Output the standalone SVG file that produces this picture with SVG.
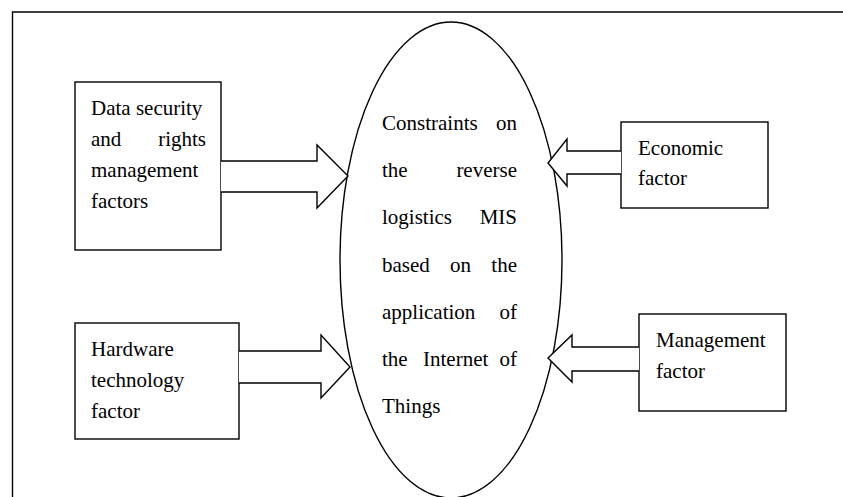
<svg xmlns="http://www.w3.org/2000/svg" width="843" height="497" viewBox="0 0 843 497">
<style>
.s{fill:none;stroke:#000;stroke-width:1.4}
.a{fill:#fff;stroke:#000;stroke-width:1.4;stroke-linejoin:miter}
text{font-family:"Liberation Serif","Times New Roman",serif;font-size:21px;fill:#000}
.e{text-anchor:end}
</style>
<rect width="843" height="497" fill="#fff"/>
<g id="frame"><path class="s" d="M12.5,498 V12 H844"/></g>
<g id="center">
<ellipse class="s" cx="451" cy="260" rx="111" ry="238"/>
<text x="382" y="130">Constraints</text><text class="e" x="517" y="130">on</text>
<text x="382" y="177">the</text><text class="e" x="517" y="177">reverse</text>
<text x="382" y="224">logistics</text><text class="e" x="517" y="224">MIS</text>
<text x="382" y="272">based</text><text x="450" y="272">on</text><text class="e" x="517" y="272">the</text>
<text x="382" y="319">application</text><text class="e" x="517" y="319">of</text>
<text x="382" y="366">the</text><text x="423" y="366">Internet</text><text class="e" x="517" y="366">of</text>
<text x="382" y="413">Things</text>
</g>
<g id="data-security">
<rect class="s" x="75" y="82" width="146" height="168"/>
<text x="91" y="115">Data security</text>
<text x="91" y="146">and</text><text class="e" x="206" y="146">rights</text>
<text x="91" y="177">management</text>
<text x="91" y="208">factors</text>
</g>
<g id="economic">
<rect class="s" x="621" y="122" width="147" height="86"/>
<text x="638" y="155">Economic</text>
<text x="638" y="185">factor</text>
</g>
<g id="hardware">
<rect class="s" x="75" y="323" width="164" height="116"/>
<text x="91" y="356">Hardware</text>
<text x="91" y="387">technology</text>
<text x="91" y="418">factor</text>
</g>
<g id="management">
<rect class="s" x="639" y="314" width="147" height="97"/>
<text x="656" y="347">Management</text>
<text x="656" y="378">factor</text>
</g>
<g id="connectors">
<path class="a" d="M221,161 H317 V145 L348,176 L317,208 V192 H221"/>
<path class="a" d="M621,151 H567 V139 L548,163 L567,186 V174 H621"/>
<path class="a" d="M239,351 H321 V335 L350,367 L321,398 V383 H239"/>
<path class="a" d="M639,347 H572 V335 L548,358 L572,382 V371 H639"/>
</g>
</svg>
